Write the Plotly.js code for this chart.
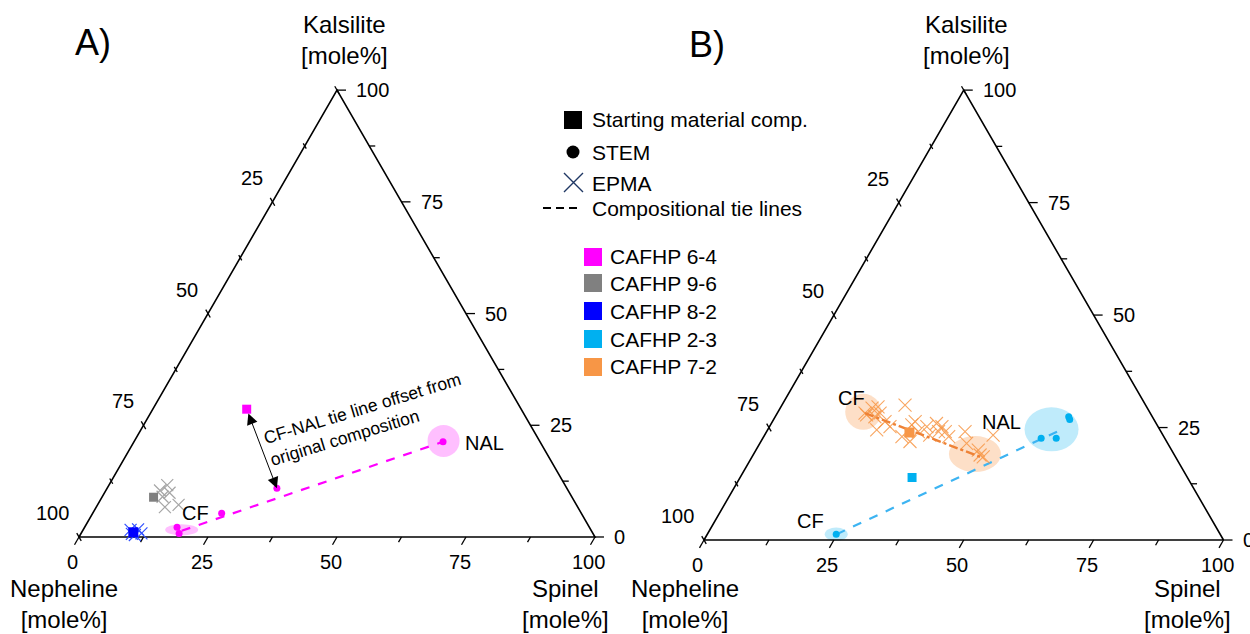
<!DOCTYPE html>
<html><head><meta charset="utf-8">
<script src="https://cdn.plot.ly/plotly-3.0.1.min.js"></script>
<style>html,body{margin:0;padding:0;background:#fff}#chart{width:1250px;height:634px}</style>
</head><body><div id="chart"></div>
<script>
// ---------- DATA (mole%; Nepheline = 100 - Spinel - Kalsilite) ----------
// Panel A
const a_64_stem_spinel = [17.9, 19.0, 25.0, 32.9, 59.9];
const a_64_stem_kals   = [2.2, 0.8, 5.3, 10.9, 21.3];
const a_64_start_spinel = [18.2];
const a_64_start_kals   = [28.6];
const a_64_tie_spinel = [19.2, 59.9];
const a_64_tie_kals   = [1.4, 21.3];

const a_96_start_spinel = [10.0];
const a_96_start_kals   = [8.9];
const a_96_epma_spinel = [10.5, 11.3, 12.6, 11.7, 13.3, 15.7];
const a_96_epma_kals   = [10.4, 11.6, 9.9, 9.0, 6.7, 7.2];

const a_82_start_spinel = [10.0];
const a_82_start_kals   = [1.05];
const a_82_epma_spinel = [9.2, 10.6, 11.7, 9.9, 10.6];
const a_82_epma_kals   = [1.6, 0.45, 0.8, 0.7, 1.7];

// Panel B
const b_23_stem_spinel = [24.8, 53.6, 56.5, 57.0, 56.5];
const b_23_stem_kals   = [1.3, 22.6, 22.6, 26.8, 27.4];
const b_23_start_spinel = [33.1];
const b_23_start_kals   = [13.9];
const b_23_tie_spinel = [24.9, 56.6];
const b_23_tie_kals   = [1.3, 24.6];

const b_72_epma_spinel = [16.9, 17.7, 18.7, 19.8, 19.2, 17.4, 21.0, 23.7, 27.5, 27.2, 26.6, 28.7, 29.2, 31.8,
                          30.3, 31.8, 33.2, 33.1, 34.4, 35.6, 38.2, 39.8, 44.0, 42.8, 43.7, 44.5, 23.2, 21.7];
const b_72_epma_kals   = [28.2, 29.3, 29.6, 28.2, 27.4, 27.8, 24.5, 30.0, 26.3, 25.6, 23.0, 21.9, 24.1, 23.3,
                          25.2, 25.9, 25.2, 24.1, 24.1, 23.0, 24.1, 21.5, 23.3, 20.0, 18.9, 18.5, 25.2, 26.3];
const b_72_start_spinel = [27.6];
const b_72_start_kals   = [23.9];
const b_72_tie_spinel = [16.9, 43.9];
const b_72_tie_kals   = [28.2, 18.5];

// Phase fields (centres, mole%)
const a_field_spinel = [19.1, 59.9];
const a_field_kals   = [1.6, 21.5];
const b_field_spinel = [24.8, 54.6, 16.4, 42.6];
const b_field_kals   = [1.3, 24.6, 28.5, 19.1];

// Axis ticks
const tickPos = [0, 12.5, 25, 37.5, 50, 62.5, 75, 87.5, 100];
const tickLabels = [0, 25, 50, 75, 100];
const sampleNames = ['CAFHP 6-4', 'CAFHP 9-6', 'CAFHP 8-2', 'CAFHP 2-3', 'CAFHP 7-2'];
const sampleColors = ['#FF00FF', '#808080', '#0000FF', '#00B0F0', '#F79646'];

// ---------- helpers ----------
const H = Math.sqrt(3) / 2;
const FONT = 'Liberation Sans, Arial, sans-serif';
function cart(S, K) { return { x: S.map((s, i) => s + K[i] / 2), y: K.map(k => k * H) }; }
const W = 1250, HT = 634;
const px = v => v / W, py = v => 1 - v / HT;

const panels = [
  { xa: 'x', ya: 'y', scale: 5.16 },
  { xa: 'x2', ya: 'y2', scale: 5.195 }
];

const traces = [];
const shapes = [];
const annotations = [];

function addFrame(p) {
  const t = cart([0, 100, 0, 0], [0, 0, 100, 0]);
  traces.push({ type: 'scatter', mode: 'lines', x: t.x, y: t.y, xaxis: p.xa, yaxis: p.ya,
    line: { color: '#000', width: 1.6 }, hoverinfo: 'skip', showlegend: false });
  const tx = [], ty = [];
  tickPos.forEach(v => {
    const len = (v % 25 === 0 ? 9 : 6) / p.scale;
    tx.push(v, v - 0.5 * len, null); ty.push(0, -H * len, null);
    const rx = 100 - v / 2, ry = v * H;
    tx.push(rx, rx + len, null); ty.push(ry, ry, null);
    const lx = (100 - v) / 2, ly = (100 - v) * H, h = len / 2;
    tx.push(lx - 0.5 * h, lx + 0.5 * h, null); ty.push(ly + H * h, ly - H * h, null);
  });
  traces.push({ type: 'scatter', mode: 'lines', x: tx, y: ty, xaxis: p.xa, yaxis: p.ya,
    line: { color: '#000', width: 1.3 }, hoverinfo: 'skip', showlegend: false });
  const f = { family: FONT, size: 20, color: '#000' };
  tickLabels.forEach(v => {
    annotations.push({ xref: p.xa, yref: p.ya, x: 100 - v / 2, y: v * H, text: String(v), showarrow: false,
      xanchor: 'left', yanchor: 'middle', xshift: 17, font: f });
    annotations.push({ xref: p.xa, yref: p.ya, x: v, y: 0, text: String(v), showarrow: false,
      xanchor: 'center', yanchor: 'middle', xshift: -6.5, yshift: -25, font: f });
    if (v > 0) annotations.push({ xref: p.xa, yref: p.ya, x: (100 - v) / 2, y: (100 - v) * H, text: String(v),
      showarrow: false, xanchor: 'right', yanchor: 'middle', xshift: -8, yshift: 24, font: f });
  });
}
panels.forEach(addFrame);

function ellipse(p, S, K, rxPx, ryPx, fill) {
  const c = cart([S], [K]);
  shapes.push({ type: 'circle', xref: p.xa, yref: p.ya, layer: 'below',
    x0: c.x[0] - rxPx / p.scale, x1: c.x[0] + rxPx / p.scale,
    y0: c.y[0] - ryPx / p.scale, y1: c.y[0] + ryPx / p.scale,
    fillcolor: fill, line: { width: 0 } });
}
const PINK = 'rgba(255,0,255,0.25)', SKY = 'rgba(0,176,240,0.25)', ORG = 'rgba(247,150,70,0.3)';
ellipse(panels[0], a_field_spinel[0], a_field_kals[0], 16.5, 5.7, PINK);
ellipse(panels[0], a_field_spinel[1], a_field_kals[1], 16, 16, PINK);
ellipse(panels[1], b_field_spinel[0], b_field_kals[0], 11.5, 6.7, SKY);
ellipse(panels[1], b_field_spinel[1], b_field_kals[1], 27, 22, SKY);
ellipse(panels[1], b_field_spinel[2], b_field_kals[2], 18, 18, ORG);
ellipse(panels[1], b_field_spinel[3], b_field_kals[3], 26, 18, ORG);

function addPts(p, S, K, name, mode, marker, line) {
  const c = cart(S, K);
  const tr = { type: 'scatter', mode: mode, x: c.x, y: c.y, xaxis: p.xa, yaxis: p.ya, name: name,
    showlegend: false, cliponaxis: false,
    text: S.map((s, i) => 'Spinel ' + s + '<br>Kalsilite ' + K[i] + '<br>Nepheline ' + (100 - s - K[i]).toFixed(1)),
    hoverinfo: 'text' };
  if (marker) tr.marker = marker;
  if (line) tr.line = line;
  traces.push(tr);
}
function xMarker(color, size, width) {
  return { symbol: 'x-thin-open', size: size, color: color, line: { color: color, width: width } };
}
const A = panels[0], B = panels[1];
// Panel A
addPts(A, a_64_tie_spinel, a_64_tie_kals, 'CAFHP 6-4 tie line', 'lines', null, { color: '#FF00FF', width: 2.2, dash: 'dash' });
addPts(A, a_96_epma_spinel, a_96_epma_kals, 'CAFHP 9-6 EPMA', 'markers', xMarker('#A6A6A6', 12, 1.2));
addPts(A, a_82_epma_spinel, a_82_epma_kals, 'CAFHP 8-2 EPMA', 'markers', xMarker('#3050FF', 12, 1.2));
addPts(A, a_96_start_spinel, a_96_start_kals, 'CAFHP 9-6', 'markers', { symbol: 'square', size: 9, color: '#808080' });
addPts(A, a_82_start_spinel, a_82_start_kals, 'CAFHP 8-2', 'markers', { symbol: 'square', size: 10, color: '#0000FF' });
addPts(A, a_64_stem_spinel, a_64_stem_kals, 'CAFHP 6-4 STEM', 'markers', { symbol: 'circle', size: 7, color: '#FF00FF' });
addPts(A, a_64_start_spinel, a_64_start_kals, 'CAFHP 6-4', 'markers', { symbol: 'square', size: 9, color: '#FF00FF' });
// Panel B
addPts(B, b_23_tie_spinel, b_23_tie_kals, 'CAFHP 2-3 tie line', 'lines', null, { color: '#3DB4F2', width: 2.2, dash: 'dash' });
addPts(B, b_72_epma_spinel, b_72_epma_kals, 'CAFHP 7-2 EPMA', 'markers', xMarker('rgba(247,150,70,0.85)', 13, 1.1));
addPts(B, b_72_tie_spinel, b_72_tie_kals, 'CAFHP 7-2 tie line', 'lines', null, { color: '#EE8236', width: 2.4, dash: 'dashdot' });
addPts(B, b_72_start_spinel, b_72_start_kals, 'CAFHP 7-2', 'markers', { symbol: 'square', size: 10, color: '#F79646' });
addPts(B, b_23_stem_spinel, b_23_stem_kals, 'CAFHP 2-3 STEM', 'markers', { symbol: 'circle', size: 7, color: '#00B0F0' });
addPts(B, b_23_start_spinel, b_23_start_kals, 'CAFHP 2-3', 'markers', { symbol: 'square', size: 9, color: '#00B0F0' });

function lab(p, S, K, text, xanchor) {
  const c = cart([S], [K]);
  annotations.push({ xref: p.xa, yref: p.ya, x: c.x[0], y: c.y[0], text: text, showarrow: false,
    xanchor: xanchor || 'center', yanchor: 'middle', font: { family: FONT, size: 20, color: '#000' } });
}
lab(A, 20.0, 5.3, 'CF');
lab(A, 68.1, 21.1, 'NAL');
lab(B, 12.7, 31.5, 'CF');
lab(B, 44.15, 26.3, 'NAL');
lab(B, 18.26, 4.29, 'CF');

// Offset arrow (A)
const arrFrom = cart(a_64_start_spinel, a_64_start_kals), arrTo = cart([a_64_stem_spinel[3]], [a_64_stem_kals[3]]);
annotations.push({ xref: 'x', yref: 'y', axref: 'x', ayref: 'y', x: arrTo.x[0], y: arrTo.y[0],
  ax: arrFrom.x[0], ay: arrFrom.y[0], text: '', showarrow: true, arrowside: 'end+start',
  arrowhead: 2, startarrowhead: 2, arrowsize: 2.2, startarrowsize: 2.2, arrowwidth: 1, arrowcolor: '#000',
  standoff: 0, startstandoff: 3 });
const noteC = cart([42.4], [26.3]);
annotations.push({ xref: 'x', yref: 'y', x: noteC.x[0], y: noteC.y[0], text: 'CF-NAL tie line offset from<br>original composition',
  showarrow: false, textangle: -17, align: 'left', xanchor: 'center', yanchor: 'middle',
  font: { family: FONT, size: 17.5, color: '#000' } });

function ptext(x, y, text, size, anchor) {
  annotations.push({ xref: 'paper', yref: 'paper', x: px(x), y: py(y), text: text, showarrow: false,
    xanchor: anchor || 'center', yanchor: 'middle', font: { family: FONT, size: size, color: '#000' } });
}
ptext(93, 42, 'A)', 36);
ptext(707, 44, 'B)', 36);
ptext(344, 40, 'Kalsilite<br>[mole%]', 24);
ptext(966, 40, 'Kalsilite<br>[mole%]', 24);
ptext(64, 604, 'Nepheline<br>[mole%]', 24);
ptext(685, 604, 'Nepheline<br>[mole%]', 24);
ptext(565, 604, 'Spinel<br>[mole%]', 24);
ptext(1187, 604, 'Spinel<br>[mole%]', 24);

// Legend (drawn in layout)
const legText = ['Starting material comp.', 'STEM', 'EPMA', 'Compositional tie lines'];
const legY = [120, 152, 183, 209];
legText.forEach((t, i) => ptext(590, legY[i], t, 21, 'left'));
shapes.push({ type: 'rect', xref: 'paper', yref: 'paper', x0: px(564), x1: px(582), y0: py(129), y1: py(111), fillcolor: '#000', line: { width: 0 } });
shapes.push({ type: 'circle', xref: 'paper', yref: 'paper', x0: px(566.5), x1: px(579.5), y0: py(158.5), y1: py(145.5), fillcolor: '#000', line: { width: 0 } });
shapes.push({ type: 'path', xref: 'paper', yref: 'paper',
  path: 'M' + px(564) + ',' + py(173) + 'L' + px(583) + ',' + py(192) + 'M' + px(564) + ',' + py(192) + 'L' + px(583) + ',' + py(173),
  line: { color: '#203864', width: 1.4 } });
[[543, 551], [556, 564], [569, 577]].forEach(d => shapes.push({ type: 'line', xref: 'paper', yref: 'paper',
  x0: px(d[0]), x1: px(d[1]), y0: py(208), y1: py(208), line: { color: '#000', width: 2 } }));
const sqY = [257, 283, 311, 339, 367];
sampleNames.forEach((n, i) => {
  shapes.push({ type: 'rect', xref: 'paper', yref: 'paper', x0: px(584), x1: px(602), y0: py(sqY[i] + 9), y1: py(sqY[i] - 9),
    fillcolor: sampleColors[i], line: { width: 0 } });
  ptext(608, sqY[i], n, 21, 'left');
});

const hidden = { visible: false, showgrid: false, zeroline: false, fixedrange: true };
const layout = {
  width: 1250, height: 634,
  margin: { l: 0, r: 0, t: 0, b: 0 },
  paper_bgcolor: '#fff', plot_bgcolor: 'rgba(0,0,0,0)',
  showlegend: false,
  xaxis: Object.assign({ range: [-15.31, 226.94], domain: [0, 1] }, hidden),
  yaxis: Object.assign({ range: [-18.80, 104.07], domain: [0, 1] }, hidden),
  xaxis2: Object.assign({ range: [-135.51, 105.10], overlaying: 'x', anchor: 'y2' }, hidden),
  yaxis2: Object.assign({ range: [-18.09, 103.95], overlaying: 'y', anchor: 'x2' }, hidden),
  shapes: shapes,
  annotations: annotations,
  font: { family: FONT, color: '#000' }
};
Plotly.newPlot('chart', traces, layout, { displayModeBar: false, staticPlot: true });
</script>
</body></html>
